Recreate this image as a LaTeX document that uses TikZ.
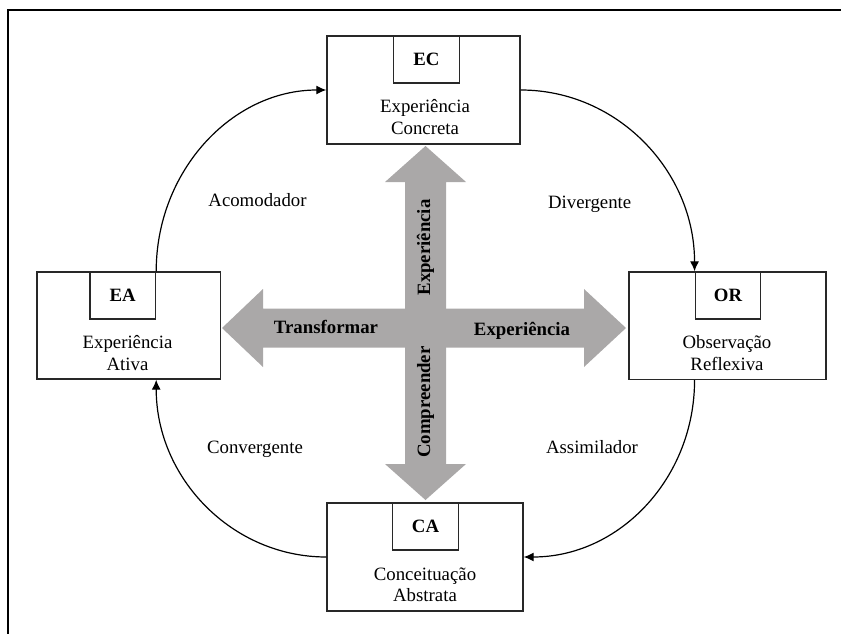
\documentclass[tikz,border=0pt]{standalone}
\usepackage{fontspec}
\setmainfont{Liberation Serif}
\usetikzlibrary{arrows.meta}
\definecolor{arrowgray}{RGB}{170,168,168}
\definecolor{boxline}{RGB}{40,40,40}
\begin{document}
\begin{tikzpicture}[x=1pt,y=-1pt,
  txt/.style={font=\fontsize{18.8}{22}\selectfont, inner sep=0pt},
  btxt/.style={font=\fontsize{18.8}{22}\selectfont\bfseries, inner sep=0pt},
  outerbox/.style={draw=boxline, line width=1.4pt, inner sep=0pt},
  innerbox/.style={draw=boxline, line width=1.4pt, inner sep=0pt,
    minimum width=65.5pt, minimum height=47pt,
    font=\fontsize{18.8}{22}\selectfont\bfseries},
  cycle/.style={line width=1.2pt, -{Latex[length=10pt,width=9pt]}},
  bigarrow/.style={fill=arrowgray, draw=none}
]
\useasboundingbox (0,0) rectangle (841,634);
% frame
\draw[line width=1.5pt] (7,10) -- (841,10);
\draw[line width=2pt] (8,10) -- (8,634);

% gray cross arrows
\path[bigarrow] (425.5,146) -- (466,182) -- (446,182) -- (446,464) -- (466,464)
  -- (425.5,500) -- (385,464) -- (405,464) -- (405,182) -- (385,182) -- cycle;
\path[bigarrow] (222,328) -- (263,289) -- (263,308.5) -- (584,308.5) -- (584,289)
  -- (626,328) -- (584,367) -- (584,347.5) -- (263,347.5) -- (263,367) -- cycle;

% boxes
\node[outerbox, minimum width=193pt, minimum height=108pt] (ec) at (423.5,90) {};
\node[innerbox] (eci) at (426.5,59.5) {EC};
\node[txt, anchor=base] (ect1) at (425,113) {Experiência};
\node[txt, anchor=base] (ect2) at (425,134.5) {Concreta};

\node[outerbox, minimum width=183.7pt, minimum height=107pt] (ea) at (128.8,325.5) {};
\node[innerbox] (eai) at (122.75,295.5) {EA};
\node[txt, anchor=base] (eat1) at (127.5,348.5) {Experiência};
\node[txt, anchor=base] (eat2) at (127.5,370.5) {Ativa};

\node[outerbox, minimum width=197pt, minimum height=107.5pt] (or) at (727.5,325.75) {};
\node[innerbox] (ori) at (728,295.5) {OR};
\node[txt, anchor=base] (ort1) at (727,348.5) {Observação};
\node[txt, anchor=base] (ort2) at (727,370.5) {Reflexiva};

\node[outerbox, minimum width=196pt, minimum height=108pt] (ca) at (425,557) {};
\node[innerbox] (cai) at (425.5,526.5) {CA};
\node[txt, anchor=base] (cat1) at (425,580) {Conceituação};
\node[txt, anchor=base] (cat2) at (425,601.5) {Abstrata};

% cycle arrows
\draw[cycle] (eai.north east) .. controls +(0,-100) and +(-94.7,0) .. (ec.west);
\draw[cycle] (ec.east) .. controls +(97,0) and +(0,-100) .. (ori.north west);
\draw[cycle] (ori.north west |- or.south) .. controls +(0,97.8) and +(96,0) .. (ca.east);
\draw[cycle] (ca.west) .. controls +(-94.4,0) and +(0,98.3) .. (eai.north east |- ea.south);

% style labels
\node[txt, anchor=base] (acom) at (257.5,206) {Acomodador};
\node[txt, anchor=base] (div) at (589.7,208) {Divergente};
\node[txt, anchor=base] (conv) at (255,453.3) {Convergente};
\node[txt, anchor=base] (assim) at (592,453.3) {Assimilador};

% arrow labels
\node[btxt, anchor=base] (transf) at (326,333) {Transformar};
\node[btxt, anchor=base] (exph) at (522,335) {Experiência};
\node[btxt, rotate=90] (expv) at (425.5,247.5) {Experiência};
\node[btxt, rotate=90] (compr) at (425.5,402) {Compreender};
\end{tikzpicture}
\end{document}
